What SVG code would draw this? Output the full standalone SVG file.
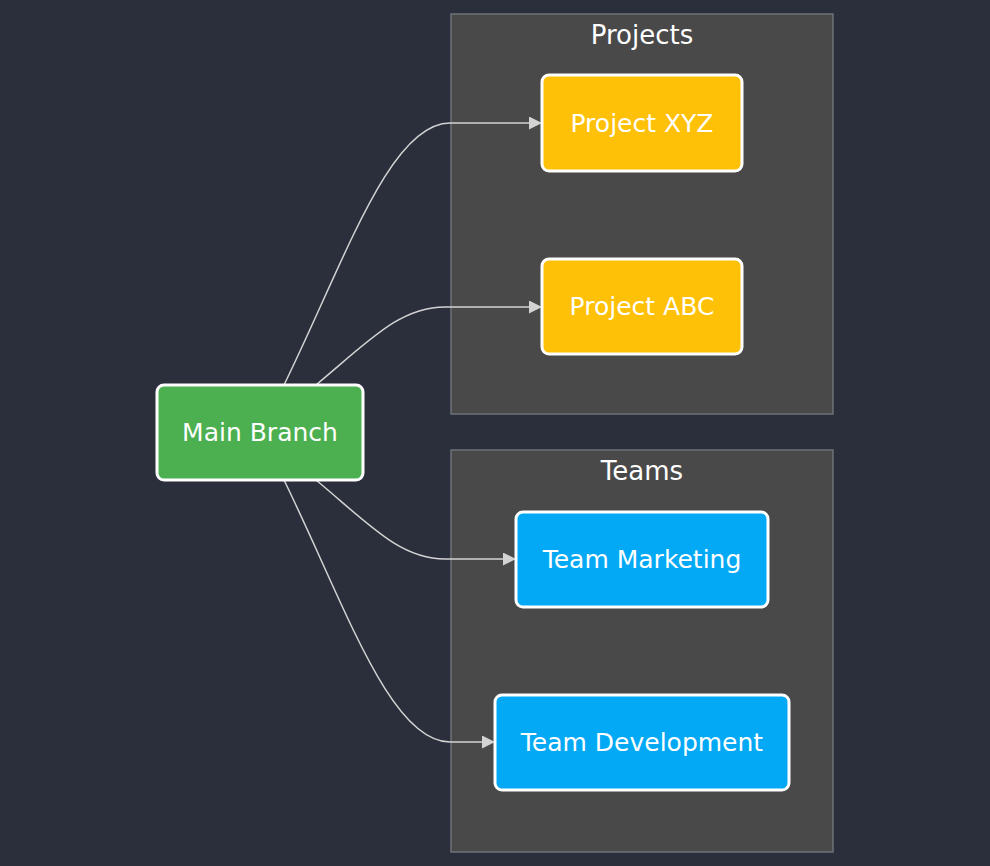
<svg xmlns="http://www.w3.org/2000/svg" width="990" height="866" viewBox="0 0 990 866">
<defs>
<style>
.cluster{fill:#494949;stroke:#6e7278;stroke-width:1.5}
.ctitle{fill:#ffffff;font-family:"DejaVu Sans",sans-serif;font-size:26px;text-anchor:middle}
.node rect{stroke:#ffffff;stroke-width:3}
.node text{fill:#ffffff;font-family:"DejaVu Sans",sans-serif;font-size:25px;text-anchor:middle;dominant-baseline:central}
.edge{fill:none;stroke:#d3d3d3;stroke-width:1.5;marker-end:url(#arrow)}
</style>
<marker id="arrow" viewBox="0 0 10 10" refX="0" refY="5" markerWidth="13" markerHeight="13" markerUnits="userSpaceOnUse" orient="auto">
<path d="M0,0 L10,5 L0,10 z" fill="#d3d3d3"/>
</marker>
</defs>
<rect width="990" height="866" fill="#2a2f3b"/>
<g id="cluster-projects">
<rect class="cluster" x="451" y="14" width="382" height="400"/>
<text class="ctitle" x="642" y="44">Projects</text>
</g>
<g id="cluster-teams">
<rect class="cluster" x="451" y="450" width="382" height="402"/>
<text class="ctitle" x="642" y="480">Teams</text>
</g>
<g id="edges">
<path class="edge" d="M284,385 C345,260 390,123 450,123 L529,123"/>
<path class="edge" d="M316,385 C370,340 400,307 445,307 L529,307"/>
<path class="edge" d="M316,480 C370,525 400,559 445,559 L503,559"/>
<path class="edge" d="M284,480 C345,605 390,742 450,742 L482,742"/>
</g>
<g id="main-branch" class="node">
<rect x="157" y="385" width="206" height="95" rx="7" fill="#4caf50"/>
<text x="260" y="432.5">Main Branch</text>
</g>
<g id="project-xyz" class="node">
<rect x="542" y="75" width="200" height="96" rx="7" fill="#ffc107"/>
<text x="642" y="123">Project XYZ</text>
</g>
<g id="project-abc" class="node">
<rect x="542" y="259" width="200" height="95" rx="7" fill="#ffc107"/>
<text x="642" y="306.5">Project ABC</text>
</g>
<g id="team-marketing" class="node">
<rect x="516" y="512" width="252" height="95" rx="7" fill="#03a9f4"/>
<text x="642" y="559.5">Team Marketing</text>
</g>
<g id="team-development" class="node">
<rect x="495" y="695" width="294" height="95" rx="7" fill="#03a9f4"/>
<text x="642" y="742.5">Team Development</text>
</g>
</svg>
